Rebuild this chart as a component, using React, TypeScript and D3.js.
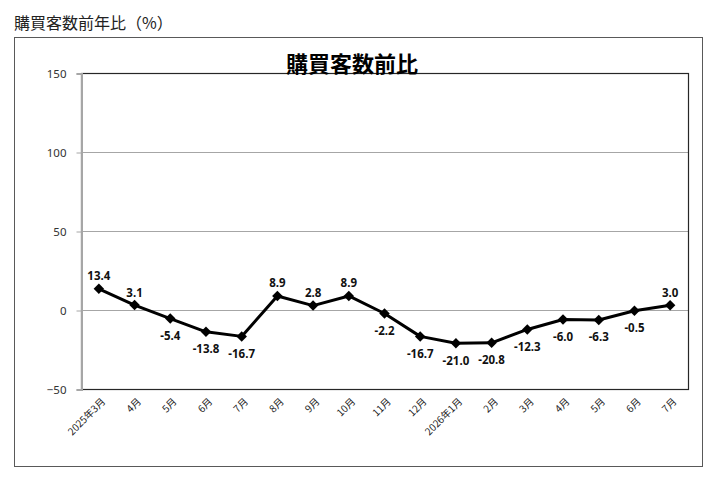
import { useEffect, useRef } from "react";
import * as d3 from "d3";

// Categories and values
const months = [
    "2025年3月", "4月", "5月", "6月", "7月", "8月", "9月", "10月", "11月",
    "12月", "2026年1月", "2月", "3月", "4月", "5月", "6月", "7月",
];
const values = [
    13.4, 3.1, -5.4, -13.8, -16.7, 8.9, 2.8, 8.9, -2.2,
    -16.7, -21.0, -20.8, -12.3, -6.0, -6.3, -0.5, 3.0,
];
const yTicks = [-50, 0, 50, 100, 150];

const pageTitle = "購買客数前年比（%）";
const chartTitle = "購買客数前比";

export default function App() {
    const chartRef = useRef<SVGSVGElement>(null);

    useEffect(() => {
        if (!chartRef.current) return;

        // Clear previous chart
        d3.select(chartRef.current).selectAll("*").remove();

        const width = 715;
        const height = 482;
        const plot = { left: 81, right: 688, top: 73, bottom: 389 };

        const svg = d3
            .select(chartRef.current)
            .attr("width", width)
            .attr("height", height);

        svg.append("rect")
            .attr("width", width)
            .attr("height", height)
            .attr("fill", "#fff");

        // Page heading above the chart frame
        svg.append("text")
            .attr("x", 14)
            .attr("y", 29)
            .attr("font-family", "'Noto Sans CJK JP', sans-serif")
            .attr("font-size", 16)
            .attr("fill", "#222")
            .text(pageTitle);

        // Chart frame
        svg.append("rect")
            .attr("x", 14.5)
            .attr("y", 37.5)
            .attr("width", 688)
            .attr("height", 429)
            .attr("fill", "none")
            .attr("stroke", "#595959")
            .attr("stroke-width", 1);

        // Scales
        const x = d3
            .scaleBand<number>()
            .domain(d3.range(months.length))
            .range([plot.left, plot.right]);

        const y = d3.scaleLinear().domain([-50, 150]).range([plot.bottom, plot.top]);

        // Gridlines
        svg.append("g")
            .selectAll("line")
            .data(yTicks)
            .enter()
            .append("line")
            .attr("x1", plot.left)
            .attr("x2", plot.right)
            .attr("y1", (d) => Math.round(y(d)) + 0.5)
            .attr("y2", (d) => Math.round(y(d)) + 0.5)
            .attr("stroke", "#a6a6a6")
            .attr("stroke-width", 1);

        // Plot area border
        svg.append("rect")
            .attr("x", plot.left + 0.5)
            .attr("y", plot.top + 0.5)
            .attr("width", plot.right - plot.left)
            .attr("height", plot.bottom - plot.top)
            .attr("fill", "none")
            .attr("stroke", "#262626")
            .attr("stroke-width", 1.2);

        // Y axis (gray line with outward ticks)
        const yAxis = svg
            .append("g")
            .attr("transform", `translate(${plot.left + 0.5},0.5)`)
            .call(d3.axisLeft(y).tickValues(yTicks).tickSize(5).tickPadding(10));
        yAxis.select(".domain").attr("stroke", "#a6a6a6").attr("stroke-width", 2);
        yAxis.selectAll(".tick line").attr("stroke", "#a6a6a6");
        yAxis
            .selectAll(".tick text")
            .attr("font-family", "'Noto Sans', sans-serif")
            .attr("font-size", 11.5)
            .attr("fill", "#333");

        // X tick labels, rotated
        svg.append("g")
            .selectAll("text")
            .data(months)
            .enter()
            .append("text")
            .attr("transform", (d, i) => {
                const cx = x(i)! + x.bandwidth() / 2 + 4;
                return `translate(${cx},${plot.bottom + 10}) rotate(-45)`;
            })
            .attr("text-anchor", "end")
            .attr("dominant-baseline", "central")
            .attr("font-family", "'Noto Sans CJK JP', sans-serif")
            .attr("font-size", 10)
            .attr("fill", "#222")
            .text((d) => d);

        // Line
        const cx = (i: number) => x(i)! + x.bandwidth() / 2;
        const line = d3
            .line<number>()
            .x((d, i) => cx(i))
            .y((d) => y(d));

        svg.append("path")
            .datum(values)
            .attr("d", line)
            .attr("fill", "none")
            .attr("stroke", "#000")
            .attr("stroke-width", 3)
            .attr("stroke-linejoin", "round");

        // Diamond markers
        const diamond = d3.symbol().type(d3.symbolDiamond2).size(70);
        svg.append("g")
            .selectAll("path")
            .data(values)
            .enter()
            .append("path")
            .attr("d", diamond)
            .attr("transform", (d, i) => `translate(${cx(i)},${y(d)})`)
            .attr("fill", "#000");

        // Data labels: above for positive, below otherwise
        svg.append("g")
            .selectAll("text")
            .data(values)
            .enter()
            .append("text")
            .attr("x", (d, i) => cx(i))
            .attr("y", (d) => y(d) + (d > 0 ? -13 : 17))
            .attr("text-anchor", "middle")
            .attr("dominant-baseline", "central")
            .attr("font-family", "'Noto Sans', sans-serif")
            .attr("font-weight", "bold")
            .attr("font-size", 11.5)
            .attr("fill", "#111")
            .text((d) => d.toFixed(1));

        // Chart title
        svg.append("text")
            .attr("x", 352)
            .attr("y", 72)
            .attr("text-anchor", "middle")
            .attr("font-family", "'Noto Sans CJK JP', sans-serif")
            .attr("font-weight", "bold")
            .attr("font-size", 22)
            .attr("fill", "#000")
            .text(chartTitle);
    }, []);

    return (
        <svg
            ref={chartRef}
            style={{ position: "absolute", left: 0, top: 0, display: "block" }}
        />
    );
}
